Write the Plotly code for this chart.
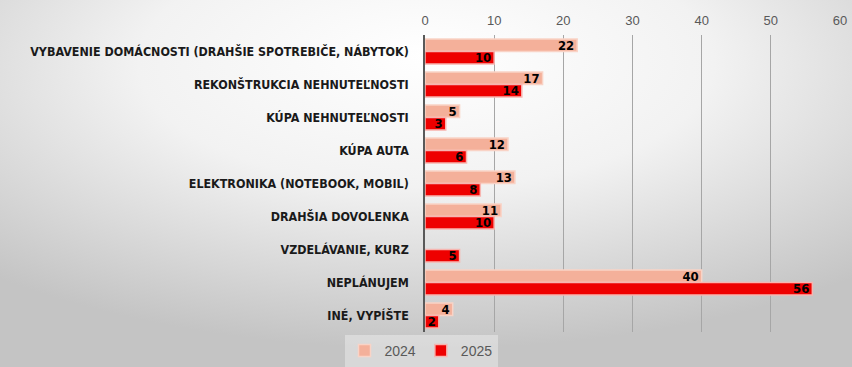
import plotly.graph_objects as go
import base64

categories = [
    "VYBAVENIE DOMÁCNOSTI (DRAHŠIE SPOTREBIČE, NÁBYTOK)",
    "REKONŠTRUKCIA NEHNUTEĽNOSTI",
    "KÚPA NEHNUTEĽNOSTI",
    "KÚPA AUTA",
    "ELEKTRONIKA (NOTEBOOK, MOBIL)",
    "DRAHŠIA DOVOLENKA",
    "VZDELÁVANIE, KURZ",
    "NEPLÁNUJEM",
    "INÉ, VYPÍŠTE",
]
values_2024 = [22, 17, 5, 12, 13, 11, None, 40, 4]
values_2025 = [10, 14, 3, 6, 8, 10, 5, 56, 2]
x_ticks = [0, 10, 20, 30, 40, 50, 60]

W, H = 852, 367
L, R, T, B = 425, 12, 35, 35
PW, PH = W - L - R, H - T - B

svg = """<svg xmlns='http://www.w3.org/2000/svg' width='852' height='367'>
<defs><radialGradient id='g' cx='0.5' cy='0.2' r='0.75' fx='0.5' fy='0.15'>
<stop offset='0' stop-color='#ffffff'/><stop offset='0.45' stop-color='#f2f2f2'/>
<stop offset='1' stop-color='#c4c4c4'/></radialGradient></defs>
<rect width='852' height='367' fill='url(#g)'/></svg>"""
bg = "data:image/svg+xml;base64," + base64.b64encode(svg.encode()).decode()

narrow = "Liberation Sans Narrow, DejaVu Sans Condensed, Arial Narrow, sans-serif"
bar_text_font = dict(family=narrow, size=13, color="#000000", weight="bold")

fig = go.Figure()
fig.add_trace(go.Bar(
    y=categories, x=values_2024, name="2024", orientation="h",
    marker=dict(color="#F4B09A", line=dict(color="#F9D3C6", width=1.5)),
    text=[("" if v is None else str(v)) for v in values_2024],
    textposition="inside", insidetextanchor="end", constraintext="none", textangle=0,
    textfont=bar_text_font, cliponaxis=False,
))
fig.add_trace(go.Bar(
    y=categories, x=values_2025, name="2025", orientation="h",
    marker=dict(color="#EE0000", line=dict(color="#F7B5B0", width=1.5)),
    text=[str(v) for v in values_2025],
    textposition="inside", insidetextanchor="end", constraintext="none", textangle=0,
    textfont=bar_text_font, cliponaxis=False,
))

fig.update_layout(
    width=W, height=H,
    margin=dict(l=L, r=R, t=T, b=B, autoexpand=False),
    paper_bgcolor="rgba(0,0,0,0)",
    plot_bgcolor="rgba(0,0,0,0)",
    barmode="group", bargap=0.24, bargroupgap=0.0,
    images=[dict(source=bg, xref="paper", yref="paper", x=-L / PW, y=1 + T / PH,
                 sizex=W / PW, sizey=H / PH, sizing="stretch", layer="below",
                 xanchor="left", yanchor="top")],
    xaxis=dict(range=[0, 60], tickvals=x_ticks, side="top", showgrid=True,
               gridcolor="#A6A6A6", gridwidth=1, zeroline=False, showline=False,
               automargin=False,
               tickfont=dict(family="Liberation Sans, Arial, sans-serif", size=13, color="#595959"),
               ticks="", ticklabelstandoff=6),
    yaxis=dict(autorange="reversed", showline=True, linecolor="#595959", linewidth=1.5,
               automargin=False, ticks="",
               tickfont=dict(family=narrow, size=12.4, color="#1a1a1a", weight="bold"),
               ticklabelstandoff=12),
    legend=dict(orientation="h", x=421 / W, y=0.0, xref="container", yref="container",
                xanchor="center", yanchor="bottom",
                bgcolor="rgba(255,255,255,0.35)",
                font=dict(family="Liberation Sans, Arial, sans-serif", size=14, color="#595959"),
                itemwidth=30),
    showlegend=True,
)

fig.write_html("out.html", config={"displayModeBar": False},
               post_script="document.body.style.margin='0';")
